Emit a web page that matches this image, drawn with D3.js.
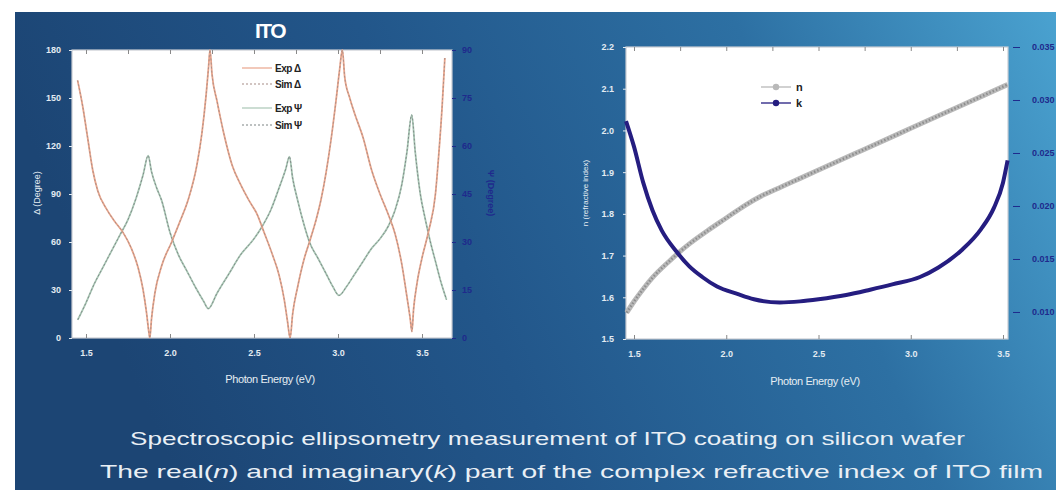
<!DOCTYPE html>
<html>
<head>
<meta charset="utf-8">
<script src="https://cdn.jsdelivr.net/npm/d3@7"></script>
<style>
  body { margin: 0; background: #fff; }
  svg { display: block; font-family: Arial, "Liberation Sans", sans-serif; }
</style>
</head>
<body>
<svg id="chart"></svg>
<script>
// ---- data ----
const deltaE = [1.45,1.48,1.51,1.54,1.57,1.62,1.67,1.72,1.77,1.81,1.84,1.86,1.875,1.88,
  1.89,1.91,1.95,2.01,2.06,2.11,2.16,2.19,2.215,2.23,2.238,
  2.25,2.28,2.32,2.37,2.42,2.47,2.52,2.56,2.61,2.65,2.68,2.70,2.715,
  2.73,2.76,2.8,2.83,2.87,2.9,2.93,2.96,2.99,3.01,3.026,
  3.04,3.07,3.1,3.15,3.2,3.25,3.3,3.34,3.38,3.41,3.43,3.44,
  3.45,3.47,3.5,3.54,3.58,3.6,3.62,3.636];
const deltaVals = [161,145,125,105,92,81,73,66,56,44,30,16,3,0,
  12,28,45,60,73,87,108,128,152,170,180,
  165,148,128,108,96,86,77,66,52,39,24,10,0,
  15,32,50,60,74,87,104,125,150,168,180,
  163,150,140,125,105,90,77,65,46,26,12,4,
  18,34,50,67,90,115,145,175];

const psiE = [1.451,1.5,1.55,1.6,1.65,1.7,1.75,1.8,1.84,1.87,
  1.89,1.92,1.95,2.0,2.05,2.1,2.15,2.2,2.228,
  2.28,2.35,2.42,2.5,2.55,2.6,2.65,2.69,2.711,
  2.73,2.76,2.8,2.83,2.88,2.93,2.97,3.006,
  3.05,3.1,3.15,3.2,3.25,3.3,3.34,3.38,3.41,3.439,
  3.46,3.49,3.52,3.55,3.58,3.61,3.646];
const psiVals = [5.7,11,17,22,27,32,37,44,51,57,
  52,47,43,33,26,21,16,11.5,9.2,
  14,20,26,31,35,40,47,53,56.7,
  50,43,35,30,25,20,16,13.3,
  16,20,24,28,31,35,40,48,58,69.7,
  58,45,37,30,24,18,12];

const nE = [1.46,1.5,1.55,1.6,1.7,1.75,1.8,1.9,2.0,2.1,2.2,2.3,2.4,2.5,2.75,3.0,3.25,3.5,3.525];
const nVals = [1.563,1.59,1.62,1.647,1.69,1.71,1.728,1.76,1.79,1.82,1.845,1.865,1.885,1.905,1.955,2.005,2.055,2.105,2.11];

const kE = [1.457,1.5,1.55,1.6,1.65,1.73,1.8,1.87,1.95,2.06,2.15,2.29,2.4,2.5,2.65,2.78,2.9,3.05,3.15,3.28,3.38,3.45,3.5,3.525];
const kVals = [0.0280,0.0256,0.0222,0.0196,0.0177,0.0157,0.0143,0.0133,0.0124,0.0117,0.0112,0.0109,0.0110,0.0112,0.0116,0.0121,0.0126,0.0133,0.0142,0.0159,0.0178,0.0198,0.0222,0.0243];

const energyTicks = [1.5, 2.0, 2.5, 3.0, 3.5];
const deltaTicks = [0, 30, 60, 90, 120, 150, 180];
const psiTicks = [0, 15, 30, 45, 60, 75, 90];
const nTicks = [1.5, 1.6, 1.7, 1.8, 1.9, 2.0, 2.1, 2.2];
const kTicks = [0.010, 0.015, 0.020, 0.025, 0.030, 0.035];

const leftLegend = ['Exp Δ', 'Sim Δ', 'Exp Ψ', 'Sim Ψ'];
const rightLegend = ['n', 'k'];
// caption pieces: [text, italic]
const captionLines = [
  [['Spectroscopic ellipsometry measurement of ITO coating on silicon wafer', false]],
  [['The real(', false], ['n', true], [') and imaginary(', false], ['k', true],
   [') part of the complex refractive index of ITO film', false]]
];

// ---- drawing ----
const W = 1056, H = 490;
const svg = d3.select('#chart').attr('width', W).attr('height', H);

const defs = svg.append('defs');
const grad = defs.append('linearGradient').attr('id', 'bg')
  .attr('x1', 0).attr('y1', 0.2).attr('x2', 1).attr('y2', 0);
[[0, '#1c4574'], [0.35, '#22568a'], [0.7, '#2d70a3'], [1, '#4aa2d0']].forEach(s =>
  grad.append('stop').attr('offset', s[0]).attr('stop-color', s[1]));

svg.append('rect').attr('x', 15).attr('y', 12).attr('width', W - 15).attr('height', H - 12)
  .attr('fill', 'url(#bg)');

const tickColor = '#e3ebf2';
const blueAxis = '#1f2a8c';

// Left panel
const L = { left: 72, right: 452, top: 50, bottom: 338 };
const xL = d3.scaleLinear().domain([1.4167, 3.6786]).range([L.left, L.right]);
const yDelta = d3.scaleLinear().domain([0, 180]).range([L.bottom, L.top]);
const yPsi = d3.scaleLinear().domain([0, 90]).range([L.bottom, L.top]);

svg.append('rect').attr('x', L.left).attr('y', L.top)
  .attr('width', L.right - L.left).attr('height', L.bottom - L.top)
  .attr('fill', '#fff').attr('stroke', '#c8ccd2').attr('stroke-width', 1.2);

function styleAxis(g, color) {
  g.select('.domain').remove();
  g.selectAll('.tick line').attr('stroke', color);
  g.selectAll('.tick text').attr('fill', color)
    .attr('font-size', 9).attr('font-weight', 'bold');
}

svg.append('g').attr('transform', `translate(0,${L.bottom})`)
  .call(d3.axisBottom(xL).tickValues(energyTicks).tickFormat(d3.format('.1f')).tickSize(-4).tickPadding(12))
  .call(g => styleAxis(g, tickColor))
  .call(g => g.selectAll('.tick line').attr('stroke', '#888'));
svg.append('g').attr('transform', `translate(0,${L.top})`)
  .call(d3.axisTop(xL).tickValues(d3.range(1.5, 3.51, 0.25)).tickFormat('').tickSize(-4))
  .call(g => styleAxis(g, '#888'));
svg.append('g').attr('transform', `translate(${L.left},0)`)
  .call(d3.axisLeft(yDelta).tickValues(deltaTicks).tickSize(3).tickPadding(8))
  .call(g => styleAxis(g, tickColor));
svg.append('g').attr('transform', `translate(${L.right},0)`)
  .call(d3.axisRight(yPsi).tickValues(psiTicks).tickSize(4).tickPadding(6))
  .call(g => styleAxis(g, blueAxis));

svg.append('text').attr('x', 270).attr('y', 38).attr('text-anchor', 'middle')
  .attr('fill', '#fff').attr('font-size', 21).attr('font-weight', 'bold')
  .attr('letter-spacing', -1.5).text('ITO');
svg.append('text').attr('x', 270).attr('y', 383).attr('text-anchor', 'middle')
  .attr('fill', '#e6edf3').attr('font-size', 11).attr('letter-spacing', -0.4)
  .text('Photon Energy (eV)');
svg.append('text').attr('transform', 'translate(40,193) rotate(-90)')
  .attr('text-anchor', 'middle').attr('fill', '#e6edf3').attr('font-size', 9)
  .text('Δ (Degree)');
svg.append('text').attr('transform', 'translate(488,193) rotate(90)')
  .attr('text-anchor', 'middle').attr('fill', blueAxis).attr('font-size', 9)
  .attr('font-weight', 'bold').text('Ψ (Degree)');

const clipL = defs.append('clipPath').attr('id', 'clipL');
clipL.append('rect').attr('x', L.left).attr('y', L.top - 1)
  .attr('width', L.right - L.left).attr('height', L.bottom - L.top + 1);

const deltaData = deltaE.map((e, i) => [e, deltaVals[i]]);
const psiData = psiE.map((e, i) => [e, psiVals[i]]);
const lineDelta = d3.line().x(d => xL(d[0])).y(d => yDelta(d[1])).curve(d3.curveMonotoneX);
const linePsi = d3.line().x(d => xL(d[0])).y(d => yPsi(d[1])).curve(d3.curveMonotoneX);

const plotL = svg.append('g').attr('clip-path', 'url(#clipL)');
const seriesL = [
  { data: psiData, line: linePsi, color: '#a9c7b5', width: 1.8, dash: null },
  { data: psiData, line: linePsi, color: '#7c8483', width: 0.9, dash: '2,2' },
  { data: deltaData, line: lineDelta, color: '#e9a58c', width: 1.8, dash: null },
  { data: deltaData, line: lineDelta, color: '#a58c86', width: 0.9, dash: '2,2' }
];
seriesL.forEach(s => plotL.append('path').datum(s.data).attr('d', s.line)
  .attr('fill', 'none').attr('stroke', s.color).attr('stroke-width', s.width)
  .attr('stroke-dasharray', s.dash));

// left legend
const legL = svg.append('g');
const legY = [68, 84, 108, 125];
const legColors = [['#e9a58c', null], ['#a58c86', '2,2'], ['#a9c7b5', null], ['#7c8483', '2,2']];
leftLegend.forEach((t, i) => {
  legL.append('line').attr('x1', 242).attr('x2', 272).attr('y1', legY[i]).attr('y2', legY[i])
    .attr('stroke', legColors[i][0]).attr('stroke-width', 1.2).attr('stroke-dasharray', legColors[i][1]);
  legL.append('text').attr('x', 275).attr('y', legY[i] + 4).attr('fill', '#222')
    .attr('font-size', 10).attr('font-weight', 'bold').attr('letter-spacing', -0.5).text(t);
});

// Right panel
const R = { left: 626, right: 1008, top: 47, bottom: 339 };
const xR = d3.scaleLinear().domain([1.4566, 3.5271]).range([R.left, R.right]);
const yN = d3.scaleLinear().domain([1.5, 2.2]).range([R.bottom, R.top]);
const yK = d3.scaleLinear().domain([0.00745, 0.035]).range([R.bottom, R.top]);

svg.append('rect').attr('x', R.left).attr('y', R.top)
  .attr('width', R.right - R.left).attr('height', R.bottom - R.top)
  .attr('fill', '#fff').attr('stroke', '#c8ccd2').attr('stroke-width', 1.2);

svg.append('g').attr('transform', `translate(0,${R.bottom})`)
  .call(d3.axisBottom(xR).tickValues(energyTicks).tickFormat(d3.format('.1f')).tickSize(-4).tickPadding(12))
  .call(g => styleAxis(g, tickColor))
  .call(g => g.selectAll('.tick line').attr('stroke', '#888'));
svg.append('g').attr('transform', `translate(0,${R.top})`)
  .call(d3.axisTop(xR).tickValues(d3.range(1.5, 3.51, 0.25)).tickFormat('').tickSize(-4))
  .call(g => styleAxis(g, '#888'));
svg.append('g').attr('transform', `translate(${R.left},0)`)
  .call(d3.axisLeft(yN).tickValues(nTicks).tickFormat(d3.format('.1f')).tickSize(3).tickPadding(9))
  .call(g => styleAxis(g, tickColor));
svg.append('g').attr('transform', `translate(${R.right},0)`)
  .call(d3.axisRight(yK).tickValues(kTicks).tickFormat(d3.format('.3f')).tickSize(7).tickPadding(17))
  .call(g => styleAxis(g, blueAxis))
  .call(g => g.selectAll('.tick line').attr('x1', 5).attr('x2', 12));

svg.append('text').attr('x', 815).attr('y', 385).attr('text-anchor', 'middle')
  .attr('fill', '#e6edf3').attr('font-size', 11).attr('letter-spacing', -0.4)
  .text('Photon Energy (eV)');
svg.append('text').attr('transform', 'translate(588,193) rotate(-90)')
  .attr('text-anchor', 'middle').attr('fill', '#e6edf3').attr('font-size', 8)
  .text('n (refractive index)');

const nData = nE.map((e, i) => [e, nVals[i]]);
const kData = kE.map((e, i) => [e, kVals[i]]);
const lineN = d3.line().x(d => xR(d[0])).y(d => yN(d[1])).curve(d3.curveMonotoneX);
const lineK = d3.line().x(d => xR(d[0])).y(d => yK(d[1])).curve(d3.curveMonotoneX);
const plotR = svg.append('g');
plotR.append('path').datum(nData).attr('d', lineN)
  .attr('fill', 'none').attr('stroke', '#b9b9b9').attr('stroke-width', 5);
plotR.append('path').datum(nData).attr('d', lineN)
  .attr('fill', 'none').attr('stroke', '#8e8e8e').attr('stroke-width', 2.5).attr('stroke-dasharray', '1.5,2');
plotR.append('path').datum(kData).attr('d', lineK)
  .attr('fill', 'none').attr('stroke', '#251d80').attr('stroke-width', 4);

// right legend
const legR = svg.append('g');
const legRY = [87, 103];
const legRColors = ['#b9b9b9', '#251d80'];
rightLegend.forEach((t, i) => {
  legR.append('line').attr('x1', 761).attr('x2', 791).attr('y1', legRY[i]).attr('y2', legRY[i])
    .attr('stroke', legRColors[i]).attr('stroke-width', 1.3);
  legR.append('circle').attr('cx', 776).attr('cy', legRY[i]).attr('r', 3.2)
    .attr('fill', legRColors[i]);
  legR.append('text').attr('x', 796).attr('y', legRY[i] + 4).attr('fill', '#222')
    .attr('font-size', 11).attr('font-weight', 'bold').text(t);
});

// caption
const capX = [[130, 965], [100, 1043]];
const capY = [445, 478];
captionLines.forEach((parts, i) => {
  const t = svg.append('text').attr('x', capX[i][0]).attr('y', capY[i])
    .attr('textLength', capX[i][1] - capX[i][0]).attr('lengthAdjust', 'spacingAndGlyphs')
    .attr('fill', '#e9eff5').attr('font-size', 19);
  parts.forEach(p => t.append('tspan').attr('font-style', p[1] ? 'italic' : 'normal').text(p[0]));
});
</script>
</body>
</html>
